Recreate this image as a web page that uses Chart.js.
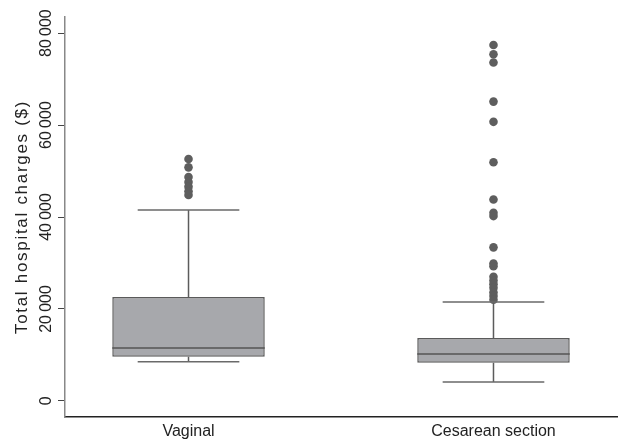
<!DOCTYPE html>
<html>
<head>
<meta charset="utf-8">
<script src="https://cdn.jsdelivr.net/npm/chart.js@4/dist/chart.umd.min.js"></script>
<style>
  body { margin: 0; background: #fff; }
  #wrap { width: 618px; height: 444px; }
</style>
</head>
<body>
<div id="wrap"><canvas id="chart" width="618" height="444"></canvas></div>
<script>
const categories = ["Vaginal", "Cesarean section"];
const lowerWhisker = [8500, 4100];
const q1 = [9600, 8300];
const median = [11500, 10200];
const q3 = [22600, 13700];
const upperWhisker = [41500, 21500];
const vaginalOutliers = [52600, 50800, 48700, 47600, 46600, 45600, 44800];
const cesareanOutliers = [77400, 75400, 73600, 65100, 60700, 51900, 43800, 40900, 40200,
  33400, 29900, 29300, 27000, 26200, 25400, 24600, 23600, 22800, 22000];
const yTicks = [0, 20000, 40000, 60000, 80000];
const yTitle = "Total hospital charges ($)";

const fontFamily = "'Liberation Sans', Arial, sans-serif";

// whiskers, caps and the median line, placed through the chart scales
const boxLines = {
  id: "boxLines",
  afterDatasetsDraw(chart) {
    const ctx = chart.ctx;
    const x = chart.scales.x;
    const y = chart.scales.y;
    const meta = chart.getDatasetMeta(0);
    ctx.save();
    ctx.lineWidth = 1.5;
    categories.forEach((cat, i) => {
      const bar = meta.data[i];
      const cx = x.getPixelForValue(i + 1);
      const half = bar.width / 2;
      const capHalf = half * 2 / 3;
      ctx.strokeStyle = "#5c5c5c";
      ctx.beginPath();
      ctx.moveTo(cx, y.getPixelForValue(q3[i]));
      ctx.lineTo(cx, y.getPixelForValue(upperWhisker[i]));
      ctx.moveTo(cx, y.getPixelForValue(q1[i]));
      ctx.lineTo(cx, y.getPixelForValue(lowerWhisker[i]));
      ctx.stroke();
      ctx.strokeStyle = "#6a6a6a";
      ctx.beginPath();
      ctx.moveTo(cx - capHalf, y.getPixelForValue(upperWhisker[i]));
      ctx.lineTo(cx + capHalf, y.getPixelForValue(upperWhisker[i]));
      ctx.moveTo(cx - capHalf, y.getPixelForValue(lowerWhisker[i]));
      ctx.lineTo(cx + capHalf, y.getPixelForValue(lowerWhisker[i]));
      ctx.stroke();
      ctx.strokeStyle = "#555";
      ctx.beginPath();
      ctx.moveTo(cx - half, y.getPixelForValue(median[i]));
      ctx.lineTo(cx + half, y.getPixelForValue(median[i]));
      ctx.stroke();
    });
    ctx.restore();
  },
  // axis title, spaced out like the original
  afterDraw(chart) {
    const ctx = chart.ctx;
    const y = chart.scales.y;
    ctx.save();
    ctx.translate(22, (y.top + y.bottom) / 2);
    ctx.rotate(-Math.PI / 2);
    ctx.font = "17px " + fontFamily;
    ctx.letterSpacing = "1.7px";
    ctx.fillStyle = "#222";
    ctx.textAlign = "center";
    ctx.textBaseline = "middle";
    ctx.fillText(yTitle, 0, 0);
    ctx.restore();
  }
};

const boxData = categories.map((c, i) => ({ x: i + 1, y: [q1[i], q3[i]] }));
const outlierData = vaginalOutliers.map(v => ({ x: 1, y: v }))
  .concat(cesareanOutliers.map(v => ({ x: 2, y: v })));

const ctx = document.getElementById("chart").getContext("2d");
const chart = new Chart(ctx, {
  type: "bar",
  data: {
    datasets: [
      {
        type: "bar",
        data: boxData,
        backgroundColor: "#a7a8ac",
        borderColor: "#5a5a5a",
        borderWidth: 1.5,
        borderSkipped: false,
        barPercentage: 0.5,
        categoryPercentage: 1,
        order: 2
      },
      {
        type: "scatter",
        data: outlierData,
        backgroundColor: "#5e5e5e",
        borderColor: "#5e5e5e",
        borderWidth: 0,
        pointRadius: 4.3,
        order: 1
      }
    ]
  },
  options: {
    responsive: false,
    animation: false,
    devicePixelRatio: 1,
    layout: { autoPadding: false, padding: { top: 17, right: 1, bottom: 0, left: 0 } },
    plugins: { legend: { display: false }, tooltip: { enabled: false } },
    scales: {
      x: {
        type: "linear",
        offset: false,
        min: 0.595,
        max: 2.405,
        afterBuildTicks: (axis) => { axis.ticks = categories.map((c, i) => ({ value: i + 1 })); },
        afterFit: (axis) => { axis.height = 27; axis.paddingLeft = 0; axis.paddingRight = 0; },
        grid: { display: false, drawTicks: false },
        border: { color: "#222", width: 1.5 },
        ticks: {
          padding: 5,
          color: "#222",
          font: { family: fontFamily, size: 16 },
          callback: (v) => categories[v - 1]
        }
      },
      y: {
        min: -3500,
        max: 83500,
        afterBuildTicks: (axis) => { axis.ticks = yTicks.map(v => ({ value: v })); },
        afterFit: (axis) => { axis.width = 65; axis.paddingTop = 0; axis.paddingBottom = 0; },
        grid: { drawOnChartArea: false, drawTicks: true, tickLength: 7, color: "#444" },
        border: { color: "#888", width: 1.5 },
        ticks: {
          minRotation: 90,
          maxRotation: 90,
          crossAlign: "center",
          padding: -12,
          color: "#222",
          font: { family: fontFamily, size: 16 },
          callback: (v) => v === 0 ? "0" : String(v / 1000) + "\u2009000"
        }
      }
    }
  },
  plugins: [boxLines]
});
</script>
</body>
</html>
